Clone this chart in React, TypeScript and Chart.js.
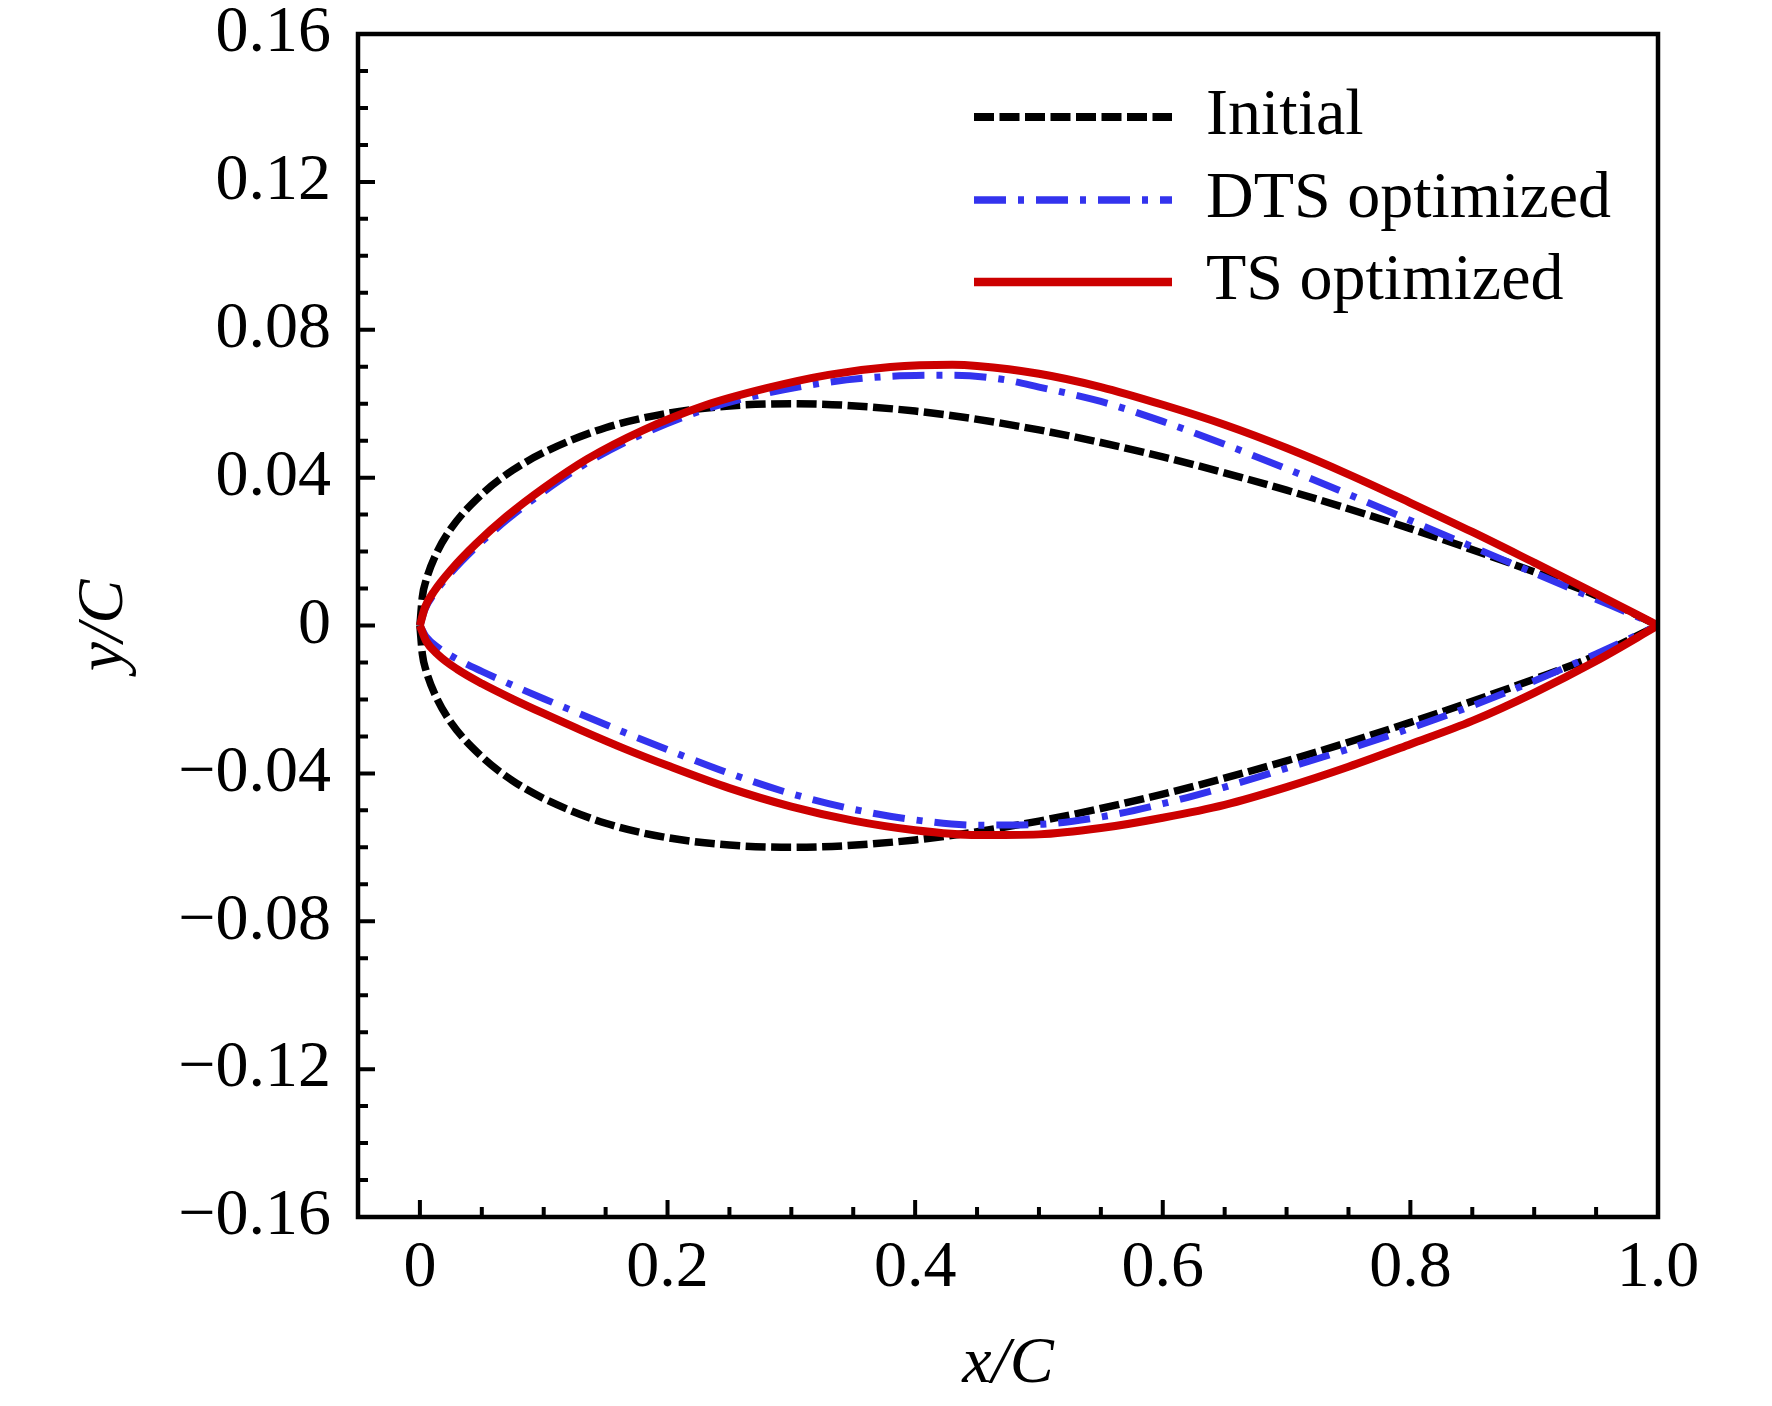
import React, { useEffect, useRef } from 'react';
import { Chart, registerables } from 'chart.js';

Chart.register(...registerables);

const FONT = '"Liberation Serif", "Times New Roman", Times, serif';

// ---- axis ticks ----
const xMajorTicks = [0, 0.2, 0.4, 0.6, 0.8, 1.0];
const xTickLabels = ['0', '0.2', '0.4', '0.6', '0.8', '1.0'];
const xMinorTicks = [0.05, 0.1, 0.15, 0.25, 0.3, 0.35, 0.45, 0.5, 0.55, 0.65, 0.7, 0.75, 0.85, 0.9, 0.95];
const yMajorTicks = [-0.16, -0.12, -0.08, -0.04, 0, 0.04, 0.08, 0.12, 0.16];
const yTickLabels = ['\u22120.16', '\u22120.12', '\u22120.08', '\u22120.04', '0', '0.04', '0.08', '0.12', '0.16'];
const yMinorTicks = [
  -0.15, -0.14, -0.13, -0.11, -0.1, -0.09, -0.07, -0.06, -0.05, -0.03, -0.02, -0.01,
  0.01, 0.02, 0.03, 0.05, 0.06, 0.07, 0.09, 0.1, 0.11, 0.13, 0.14, 0.15,
];

// ---- Initial airfoil ----
const initialX = [0, 0.002, 0.005, 0.0125, 0.025, 0.05, 0.075, 0.1, 0.15, 0.2, 0.25, 0.3, 0.4, 0.5, 0.6, 0.7, 0.8, 0.9, 0.95, 1.0];
const initialUpper = [0, 0.0078, 0.0122, 0.0189, 0.0262, 0.0355, 0.042, 0.0468, 0.0535, 0.0574, 0.0594, 0.06, 0.058, 0.0529, 0.0456, 0.0366, 0.0262, 0.0145, 0.0081, 0];
const initialLower = [0, -0.0078, -0.0122, -0.0189, -0.0262, -0.0355, -0.042, -0.0468, -0.0535, -0.0574, -0.0594, -0.06, -0.058, -0.0529, -0.0456, -0.0366, -0.0262, -0.0145, -0.0081, 0];

// ---- DTS optimized ----
const dtsUpperX = [0, 0.004, 0.012, 0.025, 0.045, 0.07, 0.1, 0.135, 0.18, 0.23, 0.28, 0.33, 0.38, 0.43, 0.47, 0.5, 0.55, 0.6, 0.65, 0.7, 0.75, 0.8, 0.85, 0.9, 0.95, 1.0];
const dtsUpperY = [0, 0.0043, 0.0088, 0.0142, 0.0211, 0.0285, 0.0362, 0.044, 0.0518, 0.0584, 0.0628, 0.0658, 0.0674, 0.0677, 0.0666, 0.0645, 0.0606, 0.0552, 0.049, 0.0424, 0.0355, 0.0284, 0.0213, 0.0142, 0.0071, 0];
const dtsLowerX = [0, 0.005, 0.015, 0.03, 0.05, 0.075, 0.1, 0.13, 0.165, 0.2, 0.25, 0.3, 0.35, 0.4, 0.45, 0.5, 0.55, 0.6, 0.65, 0.7, 0.75, 0.8, 0.85, 0.9, 0.95, 1.0];
const dtsLowerY = [0, -0.003, -0.006, -0.0091, -0.0124, -0.0162, -0.0198, -0.024, -0.0289, -0.0336, -0.04, -0.0455, -0.0497, -0.0526, -0.054, -0.0538, -0.0518, -0.0482, -0.0437, -0.0386, -0.0334, -0.0278, -0.0217, -0.015, -0.0077, 0];

// ---- TS optimized ----
const tsUpperX = [0, 0.004, 0.012, 0.025, 0.045, 0.07, 0.1, 0.135, 0.18, 0.23, 0.28, 0.33, 0.38, 0.43, 0.45, 0.5, 0.55, 0.6, 0.65, 0.7, 0.75, 0.8, 0.85, 0.9, 0.95, 1.0];
const tsUpperY = [0, 0.0048, 0.0095, 0.015, 0.022, 0.0295, 0.0372, 0.045, 0.0528, 0.0595, 0.0642, 0.0678, 0.0699, 0.0705, 0.0702, 0.0681, 0.0645, 0.0597, 0.0543, 0.048, 0.0409, 0.0332, 0.0253, 0.017, 0.0086, 0];
const tsLowerX = [0, 0.005, 0.015, 0.03, 0.05, 0.075, 0.1, 0.13, 0.165, 0.2, 0.25, 0.3, 0.35, 0.4, 0.45, 0.5, 0.55, 0.6, 0.65, 0.7, 0.75, 0.8, 0.85, 0.9, 0.95, 1.0];
const tsLowerY = [0, -0.0042, -0.008, -0.0118, -0.0157, -0.0199, -0.0238, -0.0283, -0.0333, -0.0379, -0.044, -0.049, -0.0528, -0.0554, -0.0567, -0.0565, -0.0548, -0.052, -0.0485, -0.0437, -0.0382, -0.0321, -0.0258, -0.0182, -0.0096, 0];

const seriesLabels = ['Initial', 'DTS optimized', 'TS optimized'];

// line styles per series (not data)
const seriesStyles = [
  { color: '#000000', width: 7.5, dash: [20, 5.5], order: 3 },
  { color: '#3333ee', width: 7, dash: [32, 12, 6, 12], order: 2 },
  { color: '#cc0000', width: 8, dash: [] as number[], order: 1 },
];

function pts(xs: number[], ys: number[]) {
  return xs.map((x, i) => ({ x, y: ys[i] }));
}

const seriesData = [
  [pts(initialX, initialUpper), pts(initialX, initialLower)],
  [pts(dtsUpperX, dtsUpperY), pts(dtsLowerX, dtsLowerY)],
  [pts(tsUpperX, tsUpperY), pts(tsLowerX, tsLowerY)],
];

const decorPlugin = {
  id: 'decor',
  afterDraw(chart: any) {
    const { ctx, chartArea: a, scales } = chart;
    const xs = scales.x;
    const ys = scales.y;
    ctx.save();
    ctx.strokeStyle = '#000';
    ctx.setLineDash([]);
    ctx.lineCap = 'butt';
    ctx.lineWidth = 4;
    ctx.beginPath();
    const xt = (v: number, len: number) => {
      const p = xs.getPixelForValue(v);
      ctx.moveTo(p, a.bottom);
      ctx.lineTo(p, a.bottom - len);
    };
    const yt = (v: number, len: number) => {
      const p = ys.getPixelForValue(v);
      ctx.moveTo(a.left, p);
      ctx.lineTo(a.left + len, p);
    };
    xMajorTicks.forEach((v) => xt(v, 17));
    xMinorTicks.forEach((v) => xt(v, 10));
    yMajorTicks.forEach((v) => yt(v, 17));
    yMinorTicks.forEach((v) => yt(v, 10));
    ctx.stroke();

    ctx.lineWidth = 4.5;
    ctx.lineJoin = 'miter';
    ctx.strokeRect(a.left, a.top, a.right - a.left, a.bottom - a.top);

    // legend
    const rows = [117, 200, 282];
    const x0 = 974;
    const x1 = 1172;
    seriesLabels.forEach((label, i) => {
      const st = seriesStyles[i];
      const y = rows[i];
      ctx.beginPath();
      ctx.strokeStyle = st.color;
      ctx.lineWidth = st.width + 0.5;
      ctx.setLineDash(st.dash);
      ctx.moveTo(x0, y);
      ctx.lineTo(x1, y);
      ctx.stroke();
      ctx.setLineDash([]);
      ctx.fillStyle = '#000';
      ctx.font = `66px ${FONT}`;
      ctx.textAlign = 'left';
      ctx.textBaseline = 'middle';
      ctx.fillText(label, 1206, y);
    });
    ctx.restore();
  },
};

export default function App() {
  const ref = useRef<HTMLCanvasElement>(null);

  useEffect(() => {
    const canvas = ref.current;
    if (!canvas) return;
    const tickFont = { family: FONT, size: 66 };
    const titleFont = { family: FONT, size: 66, style: 'italic' as const };
    const datasets: any[] = [];
    seriesData.forEach((surfaces, i) => {
      const st = seriesStyles[i];
      surfaces.forEach((data, j) => {
        datasets.push({
          label: seriesLabels[i] + (j === 0 ? ' upper' : ' lower'),
          data,
          borderColor: st.color,
          borderWidth: st.width,
          borderDash: st.dash,
          order: st.order,
          showLine: true,
          pointRadius: 0,
          pointHoverRadius: 0,
          cubicInterpolationMode: 'monotone',
          fill: false,
          borderCapStyle: 'butt',
          borderJoinStyle: 'round',
        });
      });
    });
    const chart = new Chart(canvas, {
      type: 'scatter',
      data: { datasets },
      options: {
        responsive: false,
        devicePixelRatio: 1,
        animation: false,
        events: [],
        layout: { padding: { left: 0, top: 34, right: 114, bottom: 0 } },
        plugins: {
          legend: { display: false },
          tooltip: { enabled: false },
        },
        scales: {
          x: {
            type: 'linear',
            min: -0.05,
            max: 1.0,
            afterFit: (s: any) => {
              s.height = 189;
              s.paddingLeft = 0;
              s.paddingRight = 0;
            },
            afterBuildTicks: (s: any) => {
              s.ticks = xMajorTicks.map((v) => ({ value: v }));
            },
            grid: { display: false, drawTicks: false },
            border: { display: false },
            ticks: {
              autoSkip: false,
              maxRotation: 0,
              minRotation: 0,
              padding: 12,
              color: '#000',
              font: tickFont,
              callback: (v: any) => {
                const i = xMajorTicks.findIndex((t) => Math.abs(t - Number(v)) < 1e-9);
                return i >= 0 ? xTickLabels[i] : '';
              },
            },
            title: {
              display: true,
              text: 'x/C',
              color: '#000',
              font: titleFont,
              padding: { top: 0, bottom: 2 },
            },
          },
          y: {
            type: 'linear',
            min: -0.16,
            max: 0.16,
            afterFit: (s: any) => {
              s.width = 358;
              s.paddingTop = 0;
              s.paddingBottom = 0;
            },
            afterBuildTicks: (s: any) => {
              s.ticks = yMajorTicks.map((v) => ({ value: v }));
            },
            grid: { display: false, drawTicks: false },
            border: { display: false },
            ticks: {
              autoSkip: false,
              padding: 27,
              color: '#000',
              font: tickFont,
              callback: (v: any) => {
                const i = yMajorTicks.findIndex((t) => Math.abs(t - Number(v)) < 1e-9);
                return i >= 0 ? yTickLabels[i] : '';
              },
            },
            title: {
              display: true,
              text: 'y/C',
              color: '#000',
              font: titleFont,
              padding: { top: 65, bottom: 0 },
            },
          },
        },
      },
      plugins: [decorPlugin],
    });
    return () => chart.destroy();
  }, []);

  return (
    <div style={{ position: 'absolute', left: 0, top: 0, width: 1772, height: 1406, background: '#fff' }}>
      <canvas ref={ref} width={1772} height={1406} style={{ display: 'block', width: 1772, height: 1406 }} />
    </div>
  );
}
